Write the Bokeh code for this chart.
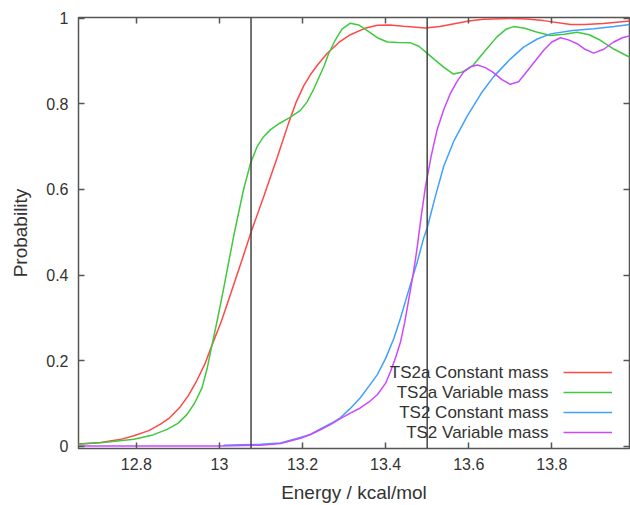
from bokeh.plotting import figure
from bokeh.models import Range1d, FixedTicker, LinearAxis, Span, Label, Legend, LegendItem
from bokeh.embed import file_html
from bokeh.resources import INLINE

# ---- data ----
ts2a_const_E = [12.66, 12.714, 12.76, 12.794, 12.83, 12.858, 12.88, 12.906, 12.925, 12.945, 12.965, 12.982,
                13.004, 13.026, 13.058, 13.076, 13.107, 13.139, 13.167, 13.185, 13.203, 13.22, 13.235, 13.259,
                13.29, 13.315, 13.35, 13.38, 13.41, 13.443, 13.496, 13.53, 13.556, 13.6, 13.635, 13.7, 13.74,
                13.78, 13.845, 13.88, 13.924, 13.99]
ts2a_const_P = [0.005, 0.008, 0.015, 0.024, 0.036, 0.051, 0.066, 0.092, 0.118, 0.152, 0.192, 0.236,
                0.29, 0.353, 0.446, 0.50, 0.585, 0.675, 0.757, 0.805, 0.843, 0.87, 0.89, 0.918,
                0.946, 0.962, 0.977, 0.984, 0.985, 0.982, 0.978, 0.981, 0.986, 0.994, 0.998, 1.0, 0.999,
                0.995, 0.986, 0.986, 0.988, 0.994]

ts2a_var_E = [12.66, 12.72, 12.794, 12.84, 12.874, 12.9, 12.922, 12.94, 12.958, 12.97, 12.982,
              12.996, 13.010, 13.034, 13.058, 13.075, 13.091, 13.105, 13.123, 13.145, 13.167, 13.195,
              13.211, 13.227, 13.251, 13.263, 13.278, 13.295, 13.315, 13.335, 13.355, 13.38, 13.404, 13.43,
              13.46, 13.48, 13.496, 13.52, 13.539, 13.563, 13.585, 13.611, 13.64, 13.668, 13.69, 13.708,
              13.735, 13.765, 13.797, 13.83, 13.861, 13.89, 13.917, 13.95, 13.99]
ts2a_var_P = [0.004, 0.008, 0.016, 0.026, 0.039, 0.053, 0.074, 0.100, 0.136, 0.18, 0.236,
              0.30, 0.368, 0.49, 0.600, 0.662, 0.701, 0.722, 0.740, 0.755, 0.767, 0.785,
              0.805, 0.835, 0.887, 0.918, 0.948, 0.975, 0.989, 0.985, 0.972, 0.955, 0.945, 0.944,
              0.943, 0.935, 0.922, 0.902, 0.887, 0.870, 0.875, 0.891, 0.925, 0.957, 0.975, 0.981,
              0.977, 0.968, 0.960, 0.963, 0.968, 0.962, 0.949, 0.928, 0.908]

ts2_const_E = [13.01, 13.05, 13.1, 13.147, 13.195, 13.219, 13.243, 13.267, 13.291, 13.315, 13.339, 13.36,
               13.38, 13.40, 13.42, 13.436, 13.452, 13.465, 13.476, 13.492, 13.50, 13.52, 13.54, 13.565,
               13.596, 13.63, 13.66, 13.7, 13.732, 13.765, 13.797, 13.85, 13.901, 13.95, 13.99]
ts2_const_P = [0.002, 0.003, 0.004, 0.007, 0.02, 0.027, 0.04, 0.052, 0.066, 0.088, 0.113, 0.14,
               0.167, 0.205, 0.252, 0.30, 0.353, 0.395, 0.430, 0.488, 0.51, 0.585, 0.655, 0.715,
               0.771, 0.825, 0.864, 0.905, 0.933, 0.952, 0.964, 0.972, 0.976, 0.981, 0.986]

ts2_var_E = [12.66, 12.9, 13.0, 13.1, 13.147, 13.195, 13.219, 13.243, 13.267, 13.291, 13.315, 13.339,
             13.36, 13.38, 13.40, 13.412, 13.425, 13.436, 13.446, 13.456, 13.465, 13.472, 13.476, 13.486,
             13.496, 13.51, 13.524, 13.54, 13.556, 13.572, 13.588, 13.605, 13.621, 13.64, 13.657, 13.68,
             13.70, 13.72, 13.749, 13.78, 13.80, 13.821, 13.84, 13.861, 13.88, 13.901, 13.925, 13.949,
             13.97, 13.99]
ts2_var_P = [0.0, 0.0, 0.0, 0.002, 0.006, 0.018, 0.027, 0.038, 0.05, 0.064, 0.077, 0.089,
             0.103, 0.120, 0.147, 0.175, 0.21, 0.244, 0.29, 0.345, 0.395, 0.438, 0.465, 0.54,
             0.608, 0.68, 0.740, 0.787, 0.825, 0.853, 0.875, 0.887, 0.891, 0.885, 0.875, 0.857,
             0.846, 0.852, 0.887, 0.925, 0.945, 0.955, 0.950, 0.941, 0.928, 0.919, 0.928, 0.945,
             0.955, 0.960]

series_names = ["TS2a Constant mass", "TS2a Variable mass", "TS2 Constant mass", "TS2 Variable mass"]
series_colors = ["#ff4848", "#40c840", "#40a0ff", "#cc48ff"]

threshold_energies = [13.076, 13.50]

x_ticks = [12.8, 13.0, 13.2, 13.4, 13.6, 13.8]
x_tick_labels = ["12.8", "13", "13.2", "13.4", "13.6", "13.8"]
y_ticks = [0.0, 0.2, 0.4, 0.6, 0.8, 1.0]
y_tick_labels = ["0", "0.2", "0.4", "0.6", "0.8", "1"]

FONT = "Liberation Sans"
TXT = "#333333"
BORDER = "#555555"

p = figure(width=630, height=505, output_backend="svg", toolbar_location=None,
           x_range=Range1d(12.6607, 13.987), y_range=Range1d(-0.0058, 1.0023),
           min_border_left=78, min_border_right=1, min_border_top=17, min_border_bottom=54,
           x_axis_label="Energy / kcal/mol", y_axis_label="Probability")
p.grid.visible = False
p.outline_line_color = BORDER
p.outline_line_width = 1.5
p.background_fill_color = "white"
p.border_fill_color = "white"

def style_axis(ax, ticks, labels, show_labels=True):
    ax.ticker = FixedTicker(ticks=ticks)
    ax.major_label_overrides = {t: (l if show_labels else "") for t, l in zip(ticks, labels)}
    ax.axis_line_color = None
    ax.major_tick_in = 6
    ax.major_tick_out = 0
    ax.major_tick_line_color = BORDER
    ax.major_tick_line_width = 1.5
    ax.minor_tick_line_color = None
    ax.major_label_text_font = FONT
    ax.major_label_text_font_size = "16px"
    ax.major_label_text_color = TXT
    ax.axis_label_text_font = FONT
    ax.axis_label_text_font_size = "19px"
    ax.axis_label_text_font_style = "normal"
    ax.axis_label_text_color = TXT

style_axis(p.xaxis[0], x_ticks, x_tick_labels)
style_axis(p.yaxis[0], y_ticks, y_tick_labels)
p.xaxis[0].major_label_standoff = 9
p.xaxis[0].axis_label_standoff = 9
p.yaxis[0].major_label_standoff = 10
p.yaxis[0].axis_label_standoff = 12

top_ax = LinearAxis()
style_axis(top_ax, x_ticks, x_tick_labels, show_labels=False)
top_ax.major_label_standoff = 0
p.add_layout(top_ax, "above")
right_ax = LinearAxis()
style_axis(right_ax, y_ticks, y_tick_labels, show_labels=False)
right_ax.major_label_standoff = 0
p.add_layout(right_ax, "right")

for e in threshold_energies:
    p.add_layout(Span(location=e, dimension="height", line_color="#444444", line_width=1.5))

renderers = []
for E, P, c in zip([ts2a_const_E, ts2a_var_E, ts2_const_E, ts2_var_E],
                   [ts2a_const_P, ts2a_var_P, ts2_const_P, ts2_var_P], series_colors):
    renderers.append(p.line(E, P, line_color=c, line_width=1.5))

# legend: text right-aligned, sample line to its right
legend = Legend(items=[LegendItem(label=" ", renderers=[r]) for r in renderers],
                location=(485, 6), glyph_width=49, glyph_height=20, label_height=20,
                label_width=0, label_standoff=0, spacing=0, padding=0, margin=0,
                border_line_color=None, background_fill_alpha=0,
                label_text_font_size="10px")
p.add_layout(legend, "center")
for i, name in enumerate(series_names):
    p.add_layout(Label(x=470, y=76 - 20 * i, x_units="screen", y_units="screen", text=name,
                       text_align="right", text_baseline="middle", text_font=FONT,
                       text_font_size="17px", text_color=TXT))

open("out.html", "w").write(file_html(p, INLINE))
